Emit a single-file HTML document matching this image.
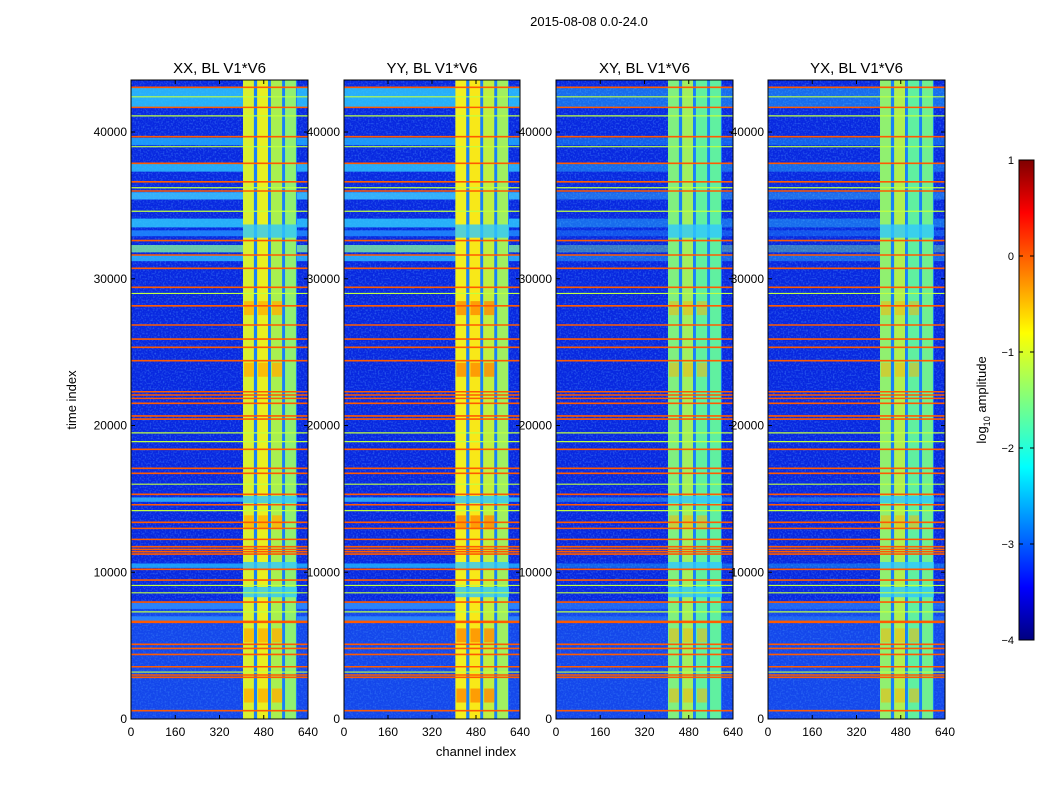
<!DOCTYPE html>
<html><head><meta charset="utf-8"><style>
body{margin:0;background:#fff;width:1050px;height:800px;overflow:hidden}
svg{display:block;font-family:"Liberation Sans","DejaVu Sans",sans-serif}
</style></head><body>
<svg id="chart" width="1050" height="800" viewBox="0 0 1050 800">
<defs>
<linearGradient id="jet" x1="0" y1="1" x2="0" y2="0">
<stop offset="0" stop-color="#00007f"/><stop offset="0.11" stop-color="#0000ff"/><stop offset="0.36" stop-color="#00ffff"/>
<stop offset="0.5" stop-color="#7fff7f"/><stop offset="0.64" stop-color="#ffff00"/><stop offset="0.89" stop-color="#ff0000"/><stop offset="1" stop-color="#7f0000"/>
</linearGradient>
<filter id="noise" x="0" y="0" width="100%" height="100%"><feTurbulence type="fractalNoise" baseFrequency="0.6" numOctaves="1" seed="3"/><feColorMatrix values="0 0 0 0 0.1  0 0 0 0 0.4  0 0 0 0 1  0 0 0 1.1 -0.5"/></filter>
</defs>
<text x="589" y="26" font-size="13" text-anchor="middle">2015-08-08 0.0-24.0</text>
<g id="panels"></g>
<text x="476" y="756" font-size="13" text-anchor="middle">channel index</text>
<text transform="translate(76,400) rotate(-90)" font-size="13" text-anchor="middle">time index</text>
<g>
<rect x="1019" y="160" width="15" height="480" fill="url(#jet)" stroke="#000" stroke-width="1"/>
<g id="cbticks"></g>
<text transform="translate(986,400) rotate(-90)" font-size="13" text-anchor="middle">log<tspan font-size="9" dy="4">10</tspan><tspan dy="-4"> amplitude</tspan></text>
</g>
</svg>
<script>
const panelTitles=["XX, BL V1*V6","YY, BL V1*V6","XY, BL V1*V6","YX, BL V1*V6"];
const xTicks=[0,160,320,480,640];
const yTicks=[0,10000,20000,30000,40000];
const cbTicks=[1,0,-1,-2,-3,-4];
const bandStart=[405,456,506,557];
const bandEnd=[448,499,550,600];
const bandColors=[["#d8f030","#e8f020","#a8f050","#90f070"],["#f0f020","#f8e818","#c0f040","#a0f060"],["#80f080","#a0f060","#60f0a0","#60f0a0"],["#90f070","#b0f050","#60f0a0","#70f090"]];
const orangeLines=[43050,41680,39680,37870,36610,35980,32600,31620,30710,29420,28160,26850,25890,25330,24420,22300,22080,21850,21510,20650,20440,18380,17080,16740,15310,14600,13400,12990,12240,11740,11560,11400,11240,10200,9470,7970,6650,6590,5090,4810,4400,3560,2998,2840,565];
const cyanBandStart=[41700,39100,37300,35400,33500,32900,31800,31200,14800,10300,7500,6600];
const cyanBandEnd=[43000,39600,37900,35900,34100,33300,32300,31600,15100,10600,7900,7000];
const cyanBandColor=["#30d0ff","#20b0ff","#30c8ff","#40d0ff","#30d0ff","#2090ff","#80f0a0","#30c0ff","#30c0ff","#20b8ff","#3090ff","#3090ff"];
const dropStart=[32800,14700,10150,8300];
const dropEnd=[33700,15200,10700,9000];
const greenLines=[42400,41100,39000,36200,34600,29000,19500,18900,16000,14200,9100,8600,7300,3200];
const blobT=[28000,23800,13400,5700,1600];
const panelX0=[131,344,556,768], panelX1=[308,520,733,945];
const Y0=719,Y1=80,TMAX=43545,CMAX=640;
const NS="http://www.w3.org/2000/svg";
function ys(t){return Y0-(t/TMAX)*(Y0-Y1);}
function mk(tag,attrs,parent){const e=document.createElementNS(NS,tag);for(const k in attrs)e.setAttribute(k,attrs[k]);parent.appendChild(e);return e;}
const root=document.getElementById('panels');
for(let p=0;p<4;p++){
  const x0=panelX0[p],x1=panelX1[p];
  const xs=c=>x0+(c/CMAX)*(x1-x0);
  const g=mk('g',{},root);
  
  
  const bg=mk('rect',{x:x0,y:Y1,width:x1-x0,height:Y0-Y1,fill:'#0828e0'},g);
  
  
  const nz=mk('rect',{x:x0,y:Y1,width:x1-x0,height:Y0-Y1,filter:'url(#noise)'},g);
  
  
  const lo=mk('rect',{x:x0,y:ys(8000),width:x1-x0,height:Y0-ys(8000),fill:'#2a80ff',opacity:0.35},g);
  
  
  for(let i=0;i<cyanBandStart.length;i++){
    const r=mk('rect',{x:x0,y:ys(cyanBandEnd[i]),width:x1-x0,height:ys(cyanBandStart[i])-ys(cyanBandEnd[i]),fill:cyanBandColor[i],opacity:p===0||p===1?0.8:0.4},g);
    
    
  }
  const gp=mk('rect',{x:xs(bandStart[0]),y:Y1,width:xs(bandEnd[3])-xs(bandStart[0]),height:Y0-Y1,fill:'#1880f8'},g);
  
  
  for(let b=0;b<4;b++){
    const r=mk('rect',{x:xs(bandStart[b]),y:Y1,width:xs(bandEnd[b])-xs(bandStart[b])-1,height:Y0-Y1,fill:bandColors[p][b]},g);
    
    
  }
  for(let i=0;i<dropStart.length;i++){
    const r=mk('rect',{x:xs(bandStart[0]),y:ys(dropEnd[i]),width:xs(bandEnd[3])-xs(bandStart[0]),height:ys(dropStart[i])-ys(dropEnd[i]),fill:'#30c8ff',opacity:0.8},g);
    
    
  }
  for(let i=0;i<blobT.length;i++){
    for(let b=0;b<3;b++){
      const e=mk('rect',{x:xs(bandStart[b])+1,y:ys(blobT[i])-7,width:xs(bandEnd[b])-xs(bandStart[b])-2,height:14,fill:p===1?'#ff8a00':'#ffb000',opacity:p>=2?0.5:0.8},g);
      
      
    }
  }
  for(const t of greenLines){
    const l=mk('line',{x1:x0,x2:x1,y1:ys(t),y2:ys(t),stroke:'#c0ff40','stroke-width':1.2},g);
    
    
  }
  for(const t of orangeLines){
    const l=mk('line',{x1:x0,x2:x1,y1:ys(t),y2:ys(t),stroke:'#ff5a00','stroke-width':1.6},g);
    
    
  }
  const fr=mk('rect',{x:x0,y:Y1,width:x1-x0,height:Y0-Y1,fill:'none',stroke:'#000','stroke-width':1},g);
  
  
  const tt=mk('text',{x:(x0+x1)/2,y:73,'font-size':15,'text-anchor':'middle'},g);
  tt.textContent=panelTitles[p];
  
  
  for(const v of xTicks){
    const x=xs(v);
    mk('line',{x1:x,x2:x,y1:Y0,y2:Y0-4,stroke:'#000'},g);
    mk('line',{x1:x,x2:x,y1:Y1,y2:Y1+4,stroke:'#000'},g);
    const t=mk('text',{x:x,y:736,'font-size':12,'text-anchor':'middle'},g);
    t.textContent=v;
    
    
  }
  for(const v of yTicks){
    const y=ys(v);
    mk('line',{x1:x0,x2:x0+4,y1:y,y2:y,stroke:'#000'},g);
    mk('line',{x1:x1,x2:x1-4,y1:y,y2:y,stroke:'#000'},g);
    const t=mk('text',{x:x0-4,y:y+4,'font-size':12,'text-anchor':'end'},g);
    t.textContent=v;
    
    
  }
}
const cb=document.getElementById('cbticks');
for(const v of cbTicks){
  const y=160+(1-v)*96;
  mk('line',{x1:1019,x2:1023,y1:y,y2:y,stroke:'#000'},cb);
  mk('line',{x1:1034,x2:1030,y1:y,y2:y,stroke:'#000'},cb);
  const t=mk('text',{x:1014,y:y+4,'font-size':11,'text-anchor':'end'},cb);
  t.textContent=v<0?'\u2212'+(-v):String(v);
  
  
}
</script>
</body></html>
